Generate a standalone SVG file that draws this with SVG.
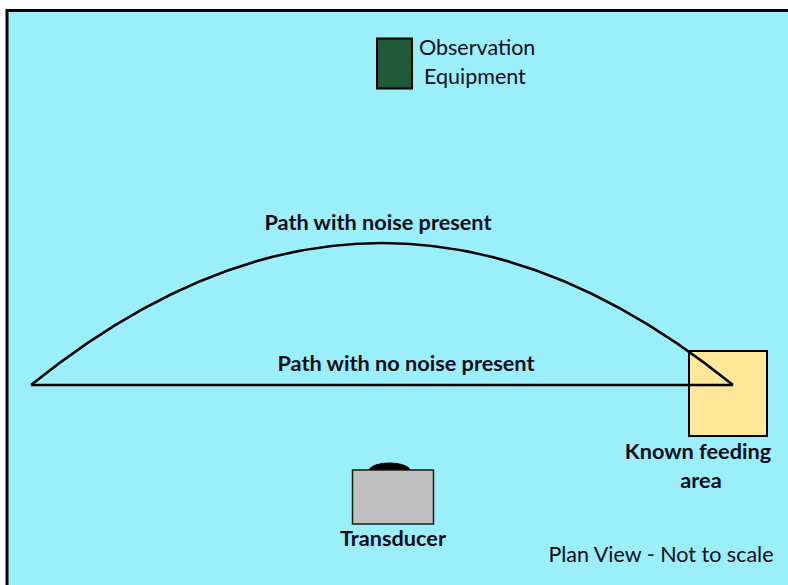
<svg xmlns="http://www.w3.org/2000/svg" width="788" height="585" viewBox="0 0 788 585">
<style>
.t{font-family:Lato,"Open Sans","Liberation Sans",sans-serif;fill:#0d0d1a}
.b{font-weight:bold;font-size:21.7px}
.n{font-size:21.5px}
.path{fill:none;stroke:#000;stroke-width:2.5}
</style>
<rect x="0" y="0" width="788" height="585" fill="#ffffff"/>
<rect x="7" y="10.5" width="784" height="578" fill="#9aeffb" stroke="#000" stroke-width="3"/>
<g id="observation-equipment">
<rect x="377" y="38.5" width="35" height="50" fill="#1f5a38" stroke="#000" stroke-width="2"/>
<text class="t n" x="419" y="55">Observation</text>
<text class="t n" x="424" y="84">Equipment</text>
</g>
<g id="feeding-area">
<rect x="689" y="351" width="78" height="85" fill="#ffe899" stroke="#000" stroke-width="2"/>
<text class="t b" x="698" y="459" text-anchor="middle">Known feeding</text>
<text class="t b" x="701" y="488" text-anchor="middle">area</text>
</g>
<g id="transducer">
<path d="M369,470 A20.5,7.5 0 0 1 410,470 Z" fill="#000"/>
<rect x="352.5" y="470" width="81" height="54" fill="#bfbfbf" stroke="#1a1a1a" stroke-width="1.5"/>
<text class="t b" x="393" y="546" text-anchor="middle">Transducer</text>
</g>
<g id="connectors">
<path class="path" d="M31,385 Q382,101 733,385"/>
<path class="path" d="M31,385 L733,385"/>
<text class="t b" x="378" y="230" text-anchor="middle">Path with noise present</text>
<text class="t b" x="406" y="371" text-anchor="middle">Path with no noise present</text>
</g>
<text class="t n" x="661" y="562" text-anchor="middle">Plan View - Not to scale</text>
</svg>
